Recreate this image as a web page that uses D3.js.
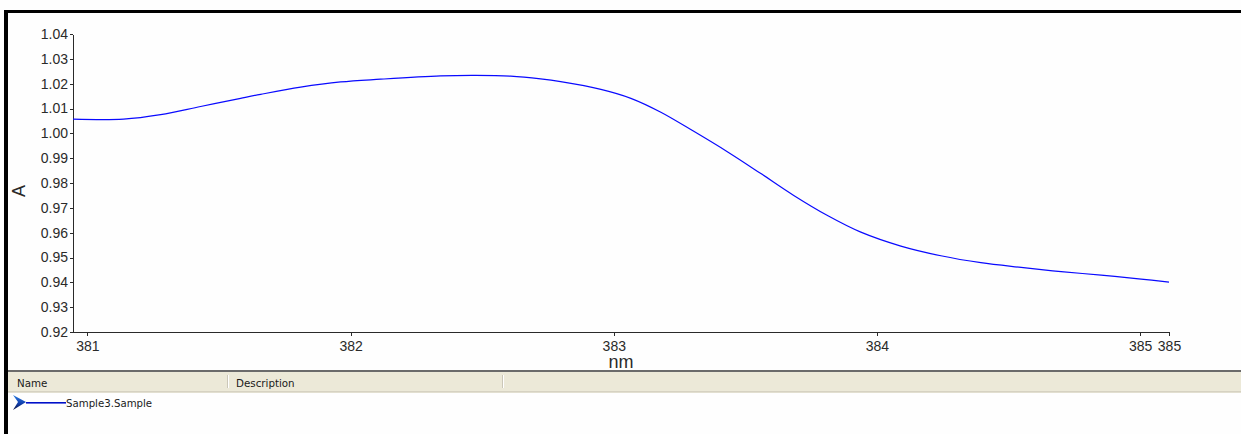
<!DOCTYPE html>
<html>
<head>
<meta charset="utf-8">
<script src="https://cdn.jsdelivr.net/npm/d3@7"></script>
<style>
  html, body { margin: 0; padding: 0; background: #fefefe; }
  svg { display: block; }
  .axis text { font-family: "Liberation Sans", Arial, sans-serif; font-size: 14px; fill: #2a2a2a; }
  .axis path, .axis line { stroke: #2a2a2a; shape-rendering: crispEdges; }
</style>
</head>
<body>
<svg id="chart" width="1241" height="434"></svg>
<script>
// Absorbance spectrum, Sample3.Sample
const wavelengths = [380.945, 381.137, 381.278, 381.430, 381.582, 381.658, 381.810, 381.962, 382.114,
  382.342, 382.475, 382.608, 382.722, 382.798, 382.951, 383.065, 383.179, 383.304, 383.433, 383.559,
  383.684, 383.814, 383.939, 384.091, 384.243, 384.395, 384.548, 384.700, 384.852, 385.004, 385.110];
const absorbance = [1.0057, 1.0057, 1.0075, 1.0108, 1.0141, 1.0157, 1.0186, 1.0207, 1.0218,
  1.0231, 1.0233, 1.0230, 1.0219, 1.0208, 1.0177, 1.0141, 1.0085, 1.0008, 0.9925, 0.9838,
  0.9750, 0.9668, 0.9602, 0.9546, 0.9507, 0.9479, 0.9460, 0.9443, 0.9429, 0.9413, 0.9401];

const xTicks = [381, 382, 383, 384, 385, 385.11];
const yTicks = [0.92, 0.93, 0.94, 0.95, 0.96, 0.97, 0.98, 0.99, 1.00, 1.01, 1.02, 1.03, 1.04];
const xTitle = "nm";
const yTitle = "A";
const tableColumns = ["Name", "Description"];
const seriesNames = ["Sample3.Sample"];

const svg = d3.select("#chart");

// window frame
svg.append("rect").attr("x", 4).attr("y", 10).attr("width", 1237).attr("height", 3).attr("fill", "#000");
svg.append("rect").attr("x", 4).attr("y", 10).attr("width", 4).attr("height", 424).attr("fill", "#000");

const x = d3.scaleLinear().domain([380.945, 385.11]).range([73, 1169]);
const y = d3.scaleLinear().domain([0.92, 1.04]).range([332, 34]);

svg.append("g").attr("class", "axis")
  .attr("transform", "translate(0,332)")
  .call(d3.axisBottom(x).tickValues(xTicks).tickFormat(d3.format(".0f")).tickSizeInner(4).tickSizeOuter(0).tickPadding(5));

svg.append("g").attr("class", "axis")
  .attr("transform", "translate(73,0)")
  .call(d3.axisLeft(y).tickValues(yTicks).tickFormat(d3.format(".2f")).tickSizeInner(3).tickSizeOuter(0).tickPadding(2));

// axis titles
svg.append("text")
  .attr("x", 621).attr("y", 368)
  .attr("text-anchor", "middle")
  .attr("font-family", "Liberation Sans, Arial, sans-serif")
  .attr("font-size", 18).attr("fill", "#2a2a2a")
  .text(xTitle);

svg.append("text")
  .attr("transform", "translate(25,191) rotate(-90)")
  .attr("text-anchor", "middle")
  .attr("font-family", "Liberation Sans, Arial, sans-serif")
  .attr("font-size", 18).attr("fill", "#2a2a2a")
  .text(yTitle);

// spectrum curve
const points = wavelengths.map((w, i) => [w, absorbance[i]]);
const line = d3.line().x(d => x(d[0])).y(d => y(d[1])).curve(d3.curveCatmullRom.alpha(0.5));
svg.append("path")
  .datum(points)
  .attr("d", line)
  .attr("fill", "none")
  .attr("stroke", "#0a0aff")
  .attr("stroke-width", 1.2);

// legend table
const table = svg.append("g");
table.append("rect").attr("x", 8).attr("y", 370).attr("width", 1233).attr("height", 2).attr("fill", "#6b6b6b");
table.append("rect").attr("x", 8).attr("y", 372).attr("width", 1233).attr("height", 19).attr("fill", "#ece9d8");
table.append("rect").attr("x", 8).attr("y", 391).attr("width", 1233).attr("height", 1).attr("fill", "#d6d2c2");
table.append("rect").attr("x", 8).attr("y", 392).attr("width", 1233).attr("height", 1).attr("fill", "#e2dfd0");

const colX = [17, 236];
const dividerX = [227, 502];
dividerX.forEach(dx => {
  table.append("rect").attr("x", dx).attr("y", 375).attr("width", 1).attr("height", 13).attr("fill", "#cbc7b8");
  table.append("rect").attr("x", dx + 1).attr("y", 375).attr("width", 1).attr("height", 13).attr("fill", "#ffffff");
});
tableColumns.forEach((c, i) => {
  table.append("text")
    .attr("x", colX[i]).attr("y", 387)
    .attr("font-family", "DejaVu Sans, Verdana, sans-serif")
    .attr("font-size", 10.3).attr("fill", "#1a1a1a")
    .text(c);
});

// series row
const defs = svg.append("defs");
const grad = defs.append("linearGradient").attr("id", "arrowFill").attr("x1", 0).attr("y1", 0).attr("x2", 0).attr("y2", 1);
grad.append("stop").attr("offset", "0%").attr("stop-color", "#2a7de0");
grad.append("stop").attr("offset", "55%").attr("stop-color", "#1040b0");
grad.append("stop").attr("offset", "100%").attr("stop-color", "#0a1040");

seriesNames.forEach((name, i) => {
  const ry = 402 + i * 16;
  table.append("path")
    .attr("d", `M13,${ry - 7} L26,${ry} L13,${ry + 8} L18,${ry} Z`)
    .attr("fill", "url(#arrowFill)");
  table.append("rect").attr("x", 26).attr("y", ry).attr("width", 40).attr("height", 1.6).attr("fill", "#0010c8");
  table.append("text")
    .attr("x", 66).attr("y", ry + 5)
    .attr("font-family", "DejaVu Sans, Verdana, sans-serif")
    .attr("font-size", 10.2).attr("fill", "#1a1a1a")
    .text(name);
});
</script>
</body>
</html>
